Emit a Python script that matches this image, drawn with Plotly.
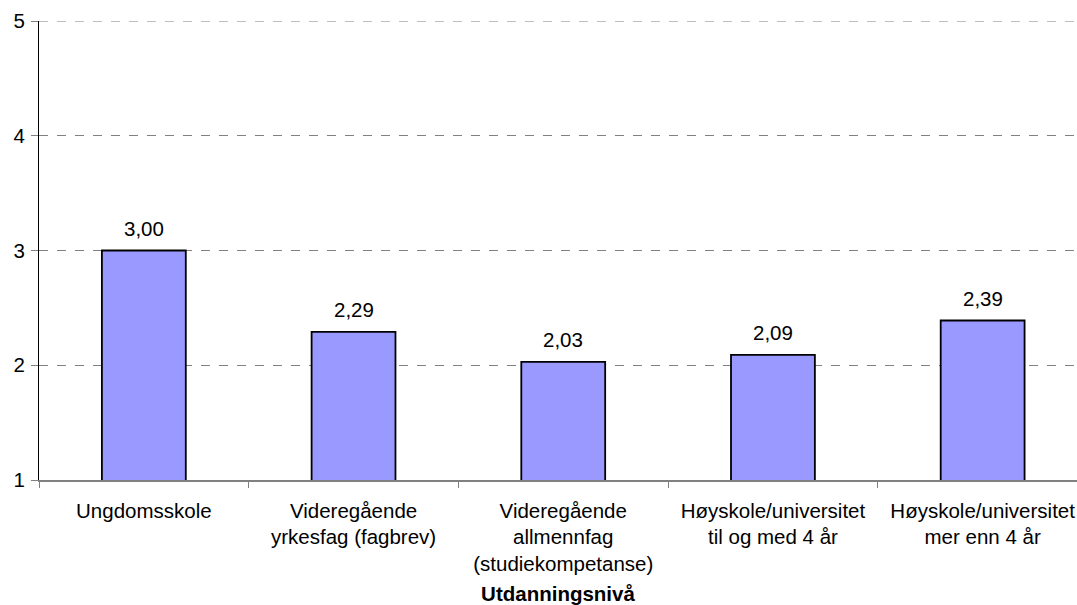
import plotly.graph_objects as go

categories = [
    "Ungdomsskole",
    "Videregående<br>yrkesfag (fagbrev)",
    "Videregående<br>allmennfag<br>(studiekompetanse)",
    "Høyskole/universitet<br>til og med 4 år",
    "Høyskole/universitet<br>mer enn 4 år",
]
values = [3.00, 2.29, 2.03, 2.09, 2.39]
value_labels = [f"{v:.2f}".replace(".", ",") for v in values]
y_ticks = [1, 2, 3, 4, 5]
x_title = "Utdanningsnivå"

FONT = "Liberation Sans, Arial, sans-serif"
FS = 20.5
GRID = "#808080"

fig = go.Figure()
fig.add_trace(go.Bar(
    x=categories,
    y=values,
    width=0.40,
    marker=dict(color="#9999FF", line=dict(color="#000000", width=1.8)),
    hoverinfo="x+y",
))

for c, v, t in zip(categories, values, value_labels):
    fig.add_annotation(
        x=c, y=v, text=t, showarrow=False,
        yanchor="bottom", yshift=9,
        font=dict(family=FONT, size=FS, color="#000000"),
    )

# top gridline (Plotly omits the gridline lying on the plot edge)
fig.add_shape(
    type="line", xref="paper", yref="y",
    x0=0, x1=1, y0=max(y_ticks), y1=max(y_ticks),
    line=dict(color=GRID, width=1, dash="dash"), layer="below",
)

fig.update_layout(
    width=1077, height=605,
    margin=dict(l=39, r=0, t=21, b=125),
    plot_bgcolor="white", paper_bgcolor="white",
    font=dict(family=FONT, size=FS, color="#000000"),
    showlegend=False,
)

fig.update_xaxes(
    range=[-0.5, 4.45],
    showline=True, linecolor="#808080", linewidth=2,
    ticks="outside", tickson="boundaries", ticklen=6, tickcolor="#808080", tickwidth=1,
    showgrid=False,
    ticklabelstandoff=11,
    tickfont=dict(family=FONT, size=FS, color="#000000"),
    title=dict(text="<b>" + x_title + "</b>", font=dict(family=FONT, size=FS, color="#000000"), standoff=14),
)

fig.update_yaxes(
    range=[1, 5],
    tickvals=y_ticks,
    showline=True, linecolor="#000000", linewidth=1,
    ticks="outside", ticklen=7, tickcolor="#808080", tickwidth=1,
    showgrid=True, gridcolor=GRID, griddash="dash", gridwidth=1,
    zeroline=False,
    ticklabelstandoff=2,
    tickfont=dict(family=FONT, size=FS, color="#000000"),
)

fig.write_html(
    "out.html",
    config={"displayModeBar": False},
    post_script="document.body.style.margin='0px';document.body.style.overflow='hidden';",
)
